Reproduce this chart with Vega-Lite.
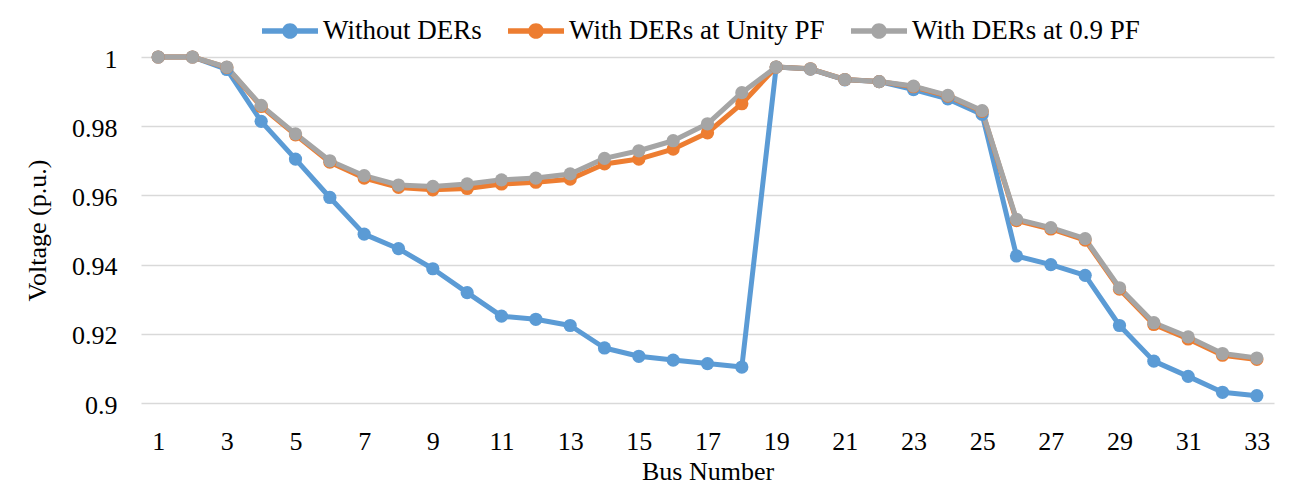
{
  "$schema": "https://vega.github.io/schema/vega-lite/v6.json",
  "width": 1133,
  "height": 346,
  "autosize": {"type": "none"},
  "padding": {"left": 141, "top": 57, "right": 29, "bottom": 81},
  "background": "white",
  "config": {
    "view": {"stroke": null},
    "font": "Liberation Serif",
    "axis": {"labelFont": "Liberation Serif", "titleFont": "Liberation Serif", "labelFontSize": 26, "titleFontSize": 26, "labelColor": "#000000", "titleColor": "#000000", "titleFontWeight": "normal"},
    "legend": {"labelFont": "Liberation Serif", "labelFontSize": 27, "labelLimit": 0}
  },
  "data": {
    "values": [
      {"bus": 1, "series": "Without DERs", "v": 1.0},
      {"bus": 2, "series": "Without DERs", "v": 1.0},
      {"bus": 3, "series": "Without DERs", "v": 0.9964},
      {"bus": 4, "series": "Without DERs", "v": 0.9814},
      {"bus": 5, "series": "Without DERs", "v": 0.9705},
      {"bus": 6, "series": "Without DERs", "v": 0.9594},
      {"bus": 7, "series": "Without DERs", "v": 0.9488},
      {"bus": 8, "series": "Without DERs", "v": 0.9446},
      {"bus": 9, "series": "Without DERs", "v": 0.9388},
      {"bus": 10, "series": "Without DERs", "v": 0.9319},
      {"bus": 11, "series": "Without DERs", "v": 0.9251},
      {"bus": 12, "series": "Without DERs", "v": 0.9242},
      {"bus": 13, "series": "Without DERs", "v": 0.9224},
      {"bus": 14, "series": "Without DERs", "v": 0.9159},
      {"bus": 15, "series": "Without DERs", "v": 0.9135},
      {"bus": 16, "series": "Without DERs", "v": 0.9124},
      {"bus": 17, "series": "Without DERs", "v": 0.9114},
      {"bus": 18, "series": "Without DERs", "v": 0.9104},
      {"bus": 19, "series": "Without DERs", "v": 0.9971},
      {"bus": 20, "series": "Without DERs", "v": 0.9965},
      {"bus": 21, "series": "Without DERs", "v": 0.9934},
      {"bus": 22, "series": "Without DERs", "v": 0.9929},
      {"bus": 23, "series": "Without DERs", "v": 0.9906},
      {"bus": 24, "series": "Without DERs", "v": 0.9879},
      {"bus": 25, "series": "Without DERs", "v": 0.9834},
      {"bus": 26, "series": "Without DERs", "v": 0.9425},
      {"bus": 27, "series": "Without DERs", "v": 0.9400},
      {"bus": 28, "series": "Without DERs", "v": 0.9369},
      {"bus": 29, "series": "Without DERs", "v": 0.9224},
      {"bus": 30, "series": "Without DERs", "v": 0.9121},
      {"bus": 31, "series": "Without DERs", "v": 0.9077},
      {"bus": 32, "series": "Without DERs", "v": 0.9031},
      {"bus": 33, "series": "Without DERs", "v": 0.9021},
      {"bus": 1, "series": "With DERs at Unity PF", "v": 1.0},
      {"bus": 2, "series": "With DERs at Unity PF", "v": 1.0},
      {"bus": 3, "series": "With DERs at Unity PF", "v": 0.9970},
      {"bus": 4, "series": "With DERs at Unity PF", "v": 0.9857},
      {"bus": 5, "series": "With DERs at Unity PF", "v": 0.9775},
      {"bus": 6, "series": "With DERs at Unity PF", "v": 0.9696},
      {"bus": 7, "series": "With DERs at Unity PF", "v": 0.9650},
      {"bus": 8, "series": "With DERs at Unity PF", "v": 0.9623},
      {"bus": 9, "series": "With DERs at Unity PF", "v": 0.9616},
      {"bus": 10, "series": "With DERs at Unity PF", "v": 0.9620},
      {"bus": 11, "series": "With DERs at Unity PF", "v": 0.9633},
      {"bus": 12, "series": "With DERs at Unity PF", "v": 0.9638},
      {"bus": 13, "series": "With DERs at Unity PF", "v": 0.9647},
      {"bus": 14, "series": "With DERs at Unity PF", "v": 0.9691},
      {"bus": 15, "series": "With DERs at Unity PF", "v": 0.9705},
      {"bus": 16, "series": "With DERs at Unity PF", "v": 0.9734},
      {"bus": 17, "series": "With DERs at Unity PF", "v": 0.9781},
      {"bus": 18, "series": "With DERs at Unity PF", "v": 0.9865},
      {"bus": 19, "series": "With DERs at Unity PF", "v": 0.9971},
      {"bus": 20, "series": "With DERs at Unity PF", "v": 0.9966},
      {"bus": 21, "series": "With DERs at Unity PF", "v": 0.9935},
      {"bus": 22, "series": "With DERs at Unity PF", "v": 0.9929},
      {"bus": 23, "series": "With DERs at Unity PF", "v": 0.9914},
      {"bus": 24, "series": "With DERs at Unity PF", "v": 0.9887},
      {"bus": 25, "series": "With DERs at Unity PF", "v": 0.9843},
      {"bus": 26, "series": "With DERs at Unity PF", "v": 0.9527},
      {"bus": 27, "series": "With DERs at Unity PF", "v": 0.9503},
      {"bus": 28, "series": "With DERs at Unity PF", "v": 0.9471},
      {"bus": 29, "series": "With DERs at Unity PF", "v": 0.9329},
      {"bus": 30, "series": "With DERs at Unity PF", "v": 0.9227},
      {"bus": 31, "series": "With DERs at Unity PF", "v": 0.9185},
      {"bus": 32, "series": "With DERs at Unity PF", "v": 0.9138},
      {"bus": 33, "series": "With DERs at Unity PF", "v": 0.9126},
      {"bus": 1, "series": "With DERs at 0.9 PF", "v": 1.0},
      {"bus": 2, "series": "With DERs at 0.9 PF", "v": 1.0},
      {"bus": 3, "series": "With DERs at 0.9 PF", "v": 0.9971},
      {"bus": 4, "series": "With DERs at 0.9 PF", "v": 0.9860},
      {"bus": 5, "series": "With DERs at 0.9 PF", "v": 0.9778},
      {"bus": 6, "series": "With DERs at 0.9 PF", "v": 0.9700},
      {"bus": 7, "series": "With DERs at 0.9 PF", "v": 0.9657},
      {"bus": 8, "series": "With DERs at 0.9 PF", "v": 0.9630},
      {"bus": 9, "series": "With DERs at 0.9 PF", "v": 0.9626},
      {"bus": 10, "series": "With DERs at 0.9 PF", "v": 0.9633},
      {"bus": 11, "series": "With DERs at 0.9 PF", "v": 0.9645},
      {"bus": 12, "series": "With DERs at 0.9 PF", "v": 0.9650},
      {"bus": 13, "series": "With DERs at 0.9 PF", "v": 0.9662},
      {"bus": 14, "series": "With DERs at 0.9 PF", "v": 0.9707},
      {"bus": 15, "series": "With DERs at 0.9 PF", "v": 0.9729},
      {"bus": 16, "series": "With DERs at 0.9 PF", "v": 0.9758},
      {"bus": 17, "series": "With DERs at 0.9 PF", "v": 0.9807},
      {"bus": 18, "series": "With DERs at 0.9 PF", "v": 0.9897},
      {"bus": 19, "series": "With DERs at 0.9 PF", "v": 0.9971},
      {"bus": 20, "series": "With DERs at 0.9 PF", "v": 0.9966},
      {"bus": 21, "series": "With DERs at 0.9 PF", "v": 0.9935},
      {"bus": 22, "series": "With DERs at 0.9 PF", "v": 0.9929},
      {"bus": 23, "series": "With DERs at 0.9 PF", "v": 0.9916},
      {"bus": 24, "series": "With DERs at 0.9 PF", "v": 0.9889},
      {"bus": 25, "series": "With DERs at 0.9 PF", "v": 0.9845},
      {"bus": 26, "series": "With DERs at 0.9 PF", "v": 0.9531},
      {"bus": 27, "series": "With DERs at 0.9 PF", "v": 0.9507},
      {"bus": 28, "series": "With DERs at 0.9 PF", "v": 0.9475},
      {"bus": 29, "series": "With DERs at 0.9 PF", "v": 0.9333},
      {"bus": 30, "series": "With DERs at 0.9 PF", "v": 0.9232},
      {"bus": 31, "series": "With DERs at 0.9 PF", "v": 0.9191},
      {"bus": 32, "series": "With DERs at 0.9 PF", "v": 0.9143},
      {"bus": 33, "series": "With DERs at 0.9 PF", "v": 0.9130}
    ]
  },
  "encoding": {
    "x": {
      "field": "bus", "type": "ordinal", "sort": null,
      "scale": {"type": "point", "padding": 0.5},
      "axis": {
        "title": "Bus Number", "values": [1,3,5,7,9,11,13,15,17,19,21,23,25,27,29,31,33],
        "labelAngle": 0, "domain": false, "ticks": false, "grid": false,
        "labelBaseline": "alphabetic", "labelPadding": 46,
        "titleBaseline": "alphabetic", "titleY": 76
      }
    },
    "y": {
      "field": "v", "type": "quantitative",
      "scale": {"domain": [0.9, 1], "nice": false, "zero": false},
      "axis": {
        "title": "Voltage (p.u.)", "values": [0.9, 0.92, 0.94, 0.96, 0.98, 1], "format": "~g",
        "domain": false, "ticks": false, "grid": true, "gridColor": "#D9D9D9", "gridWidth": 1.3,
        "labelBaseline": "alphabetic", "labelOffset": 10, "labelPadding": 24,
        "titleAngle": 270, "titleBaseline": "alphabetic", "titleAlign": "center", "titleX": -96, "titleY": 173
      }
    },
    "color": {
      "field": "series", "type": "nominal",
      "scale": {"domain": ["Without DERs", "With DERs at Unity PF", "With DERs at 0.9 PF"], "range": ["#5B9BD5", "#ED7D31", "#A5A5A5"]}
    }
  },
  "layer": [
    {
      "mark": {"type": "line", "strokeWidth": 5, "strokeJoin": "round", "strokeCap": "round"},
      "encoding": {
        "color": {
          "field": "series", "type": "nominal",
          "scale": {"domain": ["Without DERs", "With DERs at Unity PF", "With DERs at 0.9 PF"], "range": ["#5B9BD5", "#ED7D31", "#A5A5A5"]},
          "legend": {
            "title": null, "orient": "none", "direction": "horizontal",
            "legendX": 121, "legendY": -54,
            "labelFont": "Liberation Serif", "labelFontSize": 27, "labelColor": "#000000", "labelLimit": 0,
            "labelOffset": 5, "columnPadding": 26, "padding": 0,
            "symbolType": "M-1,-0.095L1,-0.095L1,0.095L-1,0.095Z M0.28,0A0.28,0.28 0 1,1 -0.28,0A0.28,0.28 0 1,1 0.28,0Z",
            "symbolSize": 3136, "symbolStrokeWidth": 0,
            "encode": {"symbols": {"update": {"fill": {"scale": "color", "field": "value"}, "fillOpacity": {"value": 1}, "strokeWidth": {"value": 0}}}}
          }
        }
      }
    },
    {
      "mark": {"type": "point", "filled": true, "size": 175, "opacity": 1},
      "encoding": {
        "color": {"field": "series", "type": "nominal", "legend": null}
      }
    }
  ]
}
